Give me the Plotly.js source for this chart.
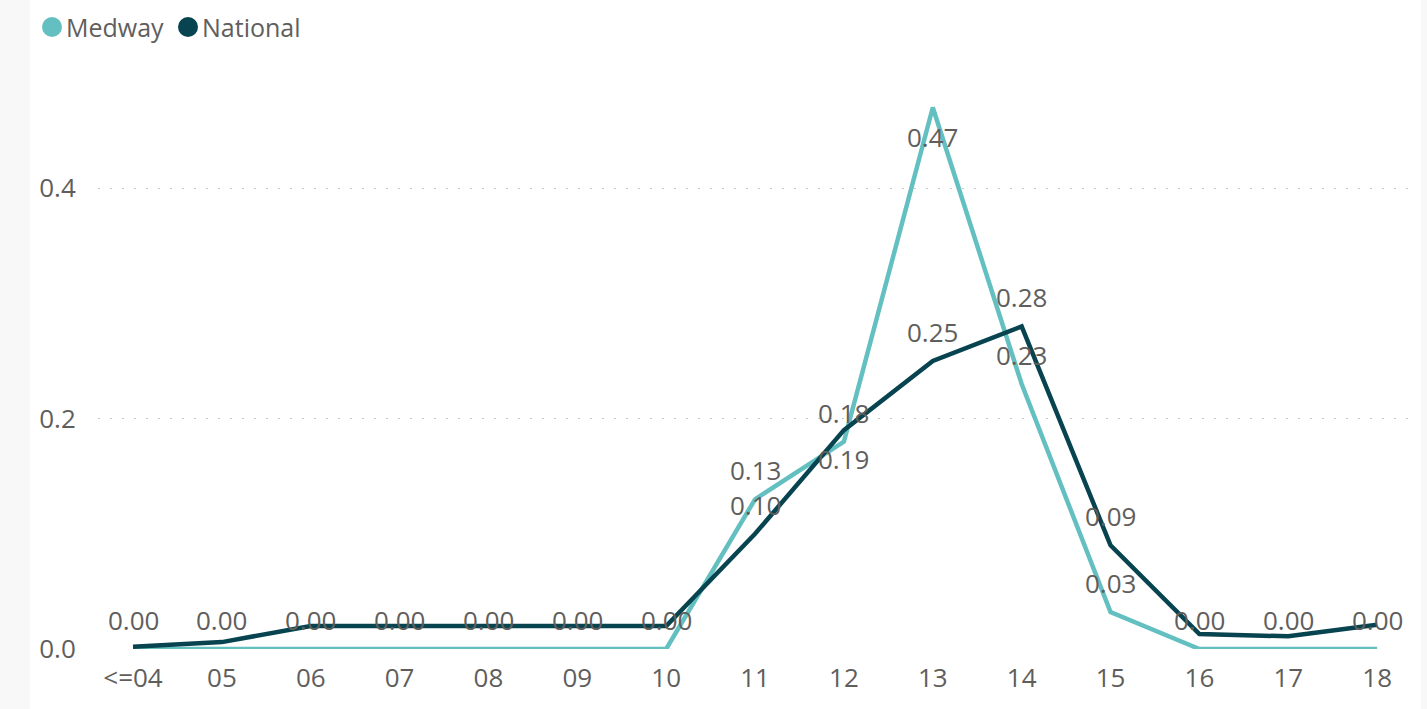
<!DOCTYPE html>
<html>
<head>
<meta charset="utf-8">
<script src="https://cdn.plot.ly/plotly-3.0.1.min.js"></script>
<style>
  html, body { margin: 0; padding: 0; background: #f8f8f8; width: 1427px; height: 709px; overflow: hidden; }
  #chart { position: absolute; left: 30px; top: 0; width: 1391px; height: 709px; background: #ffffff; }
</style>
</head>
<body>
<div id="chart"></div>
<script>
const categories = ['<=04','05','06','07','08','09','10','11','12','13','14','15','16','17','18'];
const medway   = [0, 0, 0, 0, 0, 0, 0, 0.13, 0.18, 0.47, 0.23, 0.032, 0, 0, 0];
const national = [0.002, 0.006, 0.02, 0.02, 0.02, 0.02, 0.02, 0.10, 0.19, 0.25, 0.28, 0.09, 0.013, 0.011, 0.021];
// which data labels are shown, and on which side of the point
const medwayLabelShown   = [1,1,1,1,1,1,1,1,1,1,1,1,1,1,1];
const medwayLabelBelow   = [0,0,0,0,0,0,0,0,0,1,0,0,0,0,0];
const nationalLabelShown = [0,0,0,0,0,0,0,1,1,1,1,1,0,0,0];
const nationalLabelBelow = [0,0,0,0,0,0,0,0,1,0,0,0,0,0,0];
const yTicks = [0, 0.2, 0.4];

const cMedway = '#64C0C0';
const cNational = '#07444F';
const textColor = '#605E5C';
const font = 'Segoe UI, "Open Sans", "Noto Sans", sans-serif';

const traces = [
  { x: categories, y: medway, type: 'scatter', mode: 'lines', name: 'Medway',
    line: { color: cMedway, width: 4.5 }, cliponaxis: false, showlegend: false, hoverinfo: 'skip' },
  { x: categories, y: national, type: 'scatter', mode: 'lines', name: 'National',
    line: { color: cNational, width: 4.5 }, cliponaxis: false, showlegend: false, hoverinfo: 'skip' }
];

const annotations = [];
function addLabels(vals, shown, below) {
  vals.forEach((v, i) => {
    if (!shown[i]) return;
    annotations.push({
      x: i, y: v, xref: 'x', yref: 'y', text: v.toFixed(2), showarrow: false,
      yshift: below[i] ? -29 : 29, font: { family: font, size: 26, color: textColor }
    });
  });
}
addLabels(medway, medwayLabelShown, medwayLabelBelow);
addLabels(national, nationalLabelShown, nationalLabelBelow);

// legend (manual)
const plotLeft = 98 - 30, plotW = 1312, plotTop = 96, plotH = 553;
function px2paperX(px) { return (px - 30 - plotLeft) / plotW; }
function px2paperY(py) { return (plotTop + plotH - py) / plotH; }
const legendItems = [
  { name: 'Medway', color: cMedway, cx: 52, tx: 64 },
  { name: 'National', color: cNational, cx: 188, tx: 200 }
];
const shapes = [];
legendItems.forEach(it => {
  shapes.push({ type: 'circle', xref: 'paper', yref: 'paper', xsizemode: 'pixel', ysizemode: 'pixel',
    xanchor: px2paperX(it.cx), yanchor: px2paperY(27), x0: -10, x1: 10, y0: -10, y1: 10,
    fillcolor: it.color, line: { width: 0 } });
  annotations.push({ xref: 'paper', yref: 'paper', x: px2paperX(it.tx), y: px2paperY(27),
    xanchor: 'left', yanchor: 'middle', text: it.name, showarrow: false,
    font: { family: font, size: 25, color: textColor } });
});

const layout = {
  width: 1391, height: 709,
  margin: { l: plotLeft, r: 11, t: plotTop, b: 709 - plotTop - plotH },
  paper_bgcolor: '#ffffff', plot_bgcolor: '#ffffff',
  showlegend: false,
  font: { family: font, color: textColor },
  xaxis: {
    type: 'category', range: [-0.394, 14.37], showgrid: false, zeroline: false, showline: false,
    ticks: 'outside', ticklen: 6, tickcolor: 'rgba(0,0,0,0)',
    tickfont: { family: font, size: 26, color: textColor }, fixedrange: true
  },
  yaxis: {
    range: [0, 0.48], tickvals: yTicks, ticktext: yTicks.map(v => v.toFixed(1)),
    showgrid: true, gridcolor: '#c8c8c8', gridwidth: 1, griddash: '2px,10px',
    zeroline: false, showline: false,
    ticks: 'outside', ticklen: 16, tickcolor: 'rgba(0,0,0,0)',
    tickfont: { family: font, size: 26, color: textColor }, fixedrange: true
  },
  annotations: annotations,
  shapes: shapes
};

Plotly.newPlot('chart', traces, layout, { displayModeBar: false, staticPlot: true });
</script>
</body>
</html>
